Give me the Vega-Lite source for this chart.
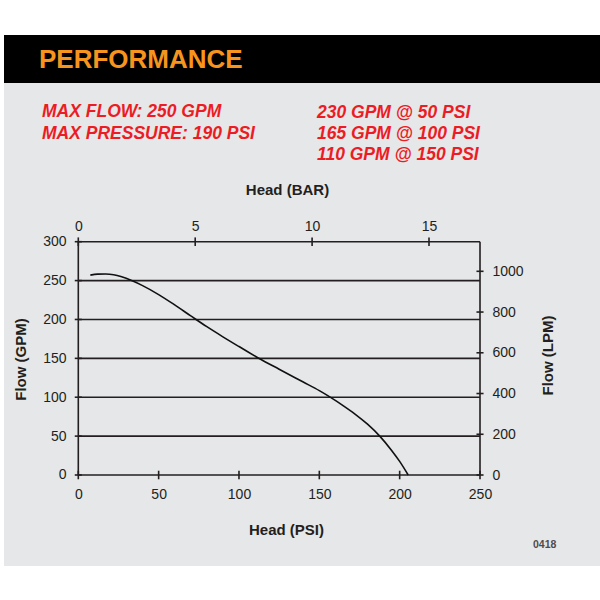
{
  "$schema": "https://vega.github.io/schema/vega-lite/v6.json",
  "background": "#ffffff",
  "padding": {"left": 4, "top": 35, "right": 0, "bottom": 34},
  "autosize": {"type": "pad"},
  "spacing": 0,
  "config": {"view": {"stroke": null}, "concat": {"spacing": 0}},
  "title": {
    "text": ["230 GPM @ 50 PSI", "165 GPM @ 100 PSI", "110 GPM @ 150 PSI"],
    "orient": "top", "anchor": "start", "frame": "group",
    "offset": -143, "dx": 313, "baseline": "alphabetic", "lineHeight": 21.3,
    "font": "Liberation Sans", "fontSize": 17.5, "fontWeight": "bold", "fontStyle": "italic",
    "color": "#ec1c24"
  },
  "datasets": {
    "gpm": [{"gpm": 0}, {"gpm": 50}, {"gpm": 100}, {"gpm": 150}, {"gpm": 200}, {"gpm": 250}, {"gpm": 300}],
    "psi": [{"psi": 0}, {"psi": 50}, {"psi": 100}, {"psi": 150}, {"psi": 200}, {"psi": 250}],
    "bar": [{"bar": 0}, {"bar": 5}, {"bar": 10}, {"bar": 15}],
    "lpm": [{"lpm": 0}, {"lpm": 200}, {"lpm": 400}, {"lpm": 600}, {"lpm": 800}, {"lpm": 1000}],
    "curve": [
      {"psi": 7.5, "gpm": 257},
      {"psi": 12, "gpm": 258.3},
      {"psi": 17, "gpm": 258.5},
      {"psi": 22, "gpm": 257.5},
      {"psi": 27, "gpm": 254.8},
      {"psi": 33.2, "gpm": 250},
      {"psi": 40, "gpm": 243.5},
      {"psi": 50, "gpm": 232},
      {"psi": 60, "gpm": 218.7},
      {"psi": 70, "gpm": 204.6},
      {"psi": 80, "gpm": 190.7},
      {"psi": 90, "gpm": 177.7},
      {"psi": 100, "gpm": 165.2},
      {"psi": 112, "gpm": 150.5},
      {"psi": 125, "gpm": 136},
      {"psi": 140, "gpm": 119.5},
      {"psi": 150, "gpm": 108.5},
      {"psi": 156.5, "gpm": 100.5},
      {"psi": 165, "gpm": 89},
      {"psi": 172, "gpm": 78.7},
      {"psi": 180, "gpm": 65.3},
      {"psi": 187.6, "gpm": 50},
      {"psi": 195, "gpm": 31.6},
      {"psi": 200, "gpm": 17.5},
      {"psi": 205.3, "gpm": 0}
    ]
  },
  "vconcat": [
    {
      "width": 596,
      "height": 48,
      "view": {"fill": "#000000", "stroke": null},
      "title": {
        "text": "PERFORMANCE",
        "orient": "top", "anchor": "start", "frame": "group",
        "offset": -59, "dx": 35, "baseline": "alphabetic",
        "font": "Liberation Sans", "fontSize": 26, "fontWeight": "bold",
        "color": "#f7941d"
      },
      "data": {"values": []},
      "mark": "point",
      "encoding": {}
    },
    {
      "spacing": 0,
      "title": {
        "text": "0418",
        "orient": "bottom", "anchor": "start", "frame": "group",
        "offset": -18, "dx": 529, "baseline": "alphabetic",
        "font": "Liberation Sans", "fontSize": 10.5, "fontWeight": "bold",
        "color": "#4d4d4f"
      },
      "vconcat": [
        {
          "width": 596,
          "height": 483,
          "view": {"fill": "#e6e7e8", "stroke": null},
          "title": {
            "text": ["MAX FLOW: 250 GPM", "MAX PRESSURE: 190 PSI"],
            "orient": "top", "anchor": "start", "frame": "group",
            "offset": -74, "dx": 38, "baseline": "alphabetic", "lineHeight": 22.3,
            "font": "Liberation Sans", "fontSize": 17.5, "fontWeight": "bold", "fontStyle": "italic",
            "color": "#ec1c24"
          },
          "resolve": {"scale": {"x": "independent", "y": "independent"}},
          "layer": [
            {
              "layer": [
                {
                  "data": {"name": "gpm"},
                  "mark": {"type": "rule", "color": "#231f20", "strokeWidth": 1.6},
                  "encoding": {
                    "y": {
                      "field": "gpm", "type": "quantitative",
                      "scale": {"domain": [-117.02, 504.07], "nice": false, "zero": false},
                      "axis": {
                        "title": "Flow (GPM)", "orient": "left", "offset": -74,
                        "values": [0, 50, 100, 150, 200, 250, 300],
                        "domain": false, "ticks": false, "tickSize": 0, "grid": false,
                        "labelPadding": 12, "labelAlign": "right", "labelBaseline": "middle",
                        "labelFont": "Liberation Sans", "labelFontSize": 14, "labelColor": "#231f20",
                        "labelOverlap": false, "labelFlush": false,
                        "titleFont": "Liberation Sans", "titleFontSize": 15, "titleFontWeight": "bold", "titleColor": "#231f20",
                        "titleAngle": 270, "titleX": -53, "titleY": 276, "titleAlign": "center", "titleBaseline": "alphabetic", "titleAnchor": null
                      }
                    },
                    "x": {
                      "datum": 0, "type": "quantitative",
                      "scale": {"domain": [-46.24, 324.68], "nice": false, "zero": false},
                      "axis": {
                        "title": "Head (PSI)", "orient": "bottom", "offset": -91,
                        "values": [0, 50, 100, 150, 200, 250],
                        "domain": false, "ticks": false, "tickSize": 0, "grid": false,
                        "labelPadding": 12, "labelAlign": "center", "labelBaseline": "top",
                        "labelFont": "Liberation Sans", "labelFontSize": 14, "labelColor": "#231f20",
                        "labelOverlap": false, "labelFlush": false,
                        "titleFont": "Liberation Sans", "titleFontSize": 15, "titleFontWeight": "bold", "titleColor": "#231f20",
                        "titleX": 282, "titleY": 59, "titleAlign": "center", "titleBaseline": "alphabetic", "titleAnchor": null
                      }
                    },
                    "x2": {"datum": 250}
                  }
                },
                {
                  "data": {"name": "gpm"},
                  "mark": {"type": "rule", "color": "#231f20", "strokeWidth": 1.6},
                  "encoding": {
                    "y": {"field": "gpm", "type": "quantitative"},
                    "x": {"datum": -2.2, "type": "quantitative"},
                    "x2": {"datum": 2.2}
                  }
                },
                {
                  "data": {"name": "psi"},
                  "mark": {"type": "rule", "color": "#231f20", "strokeWidth": 1.6},
                  "encoding": {
                    "x": {"field": "psi", "type": "quantitative"},
                    "y": {"datum": -5.5, "type": "quantitative"},
                    "y2": {"datum": 5.5}
                  }
                },
                {
                  "data": {"name": "psi"},
                  "transform": [{"filter": "datum.psi == 0 || datum.psi == 250"}],
                  "mark": {"type": "rule", "color": "#231f20", "strokeWidth": 1.6},
                  "encoding": {
                    "x": {"field": "psi", "type": "quantitative"},
                    "y": {"datum": 0, "type": "quantitative"},
                    "y2": {"datum": 300}
                  }
                },
                {
                  "data": {"name": "curve"},
                  "mark": {"type": "line", "color": "#111111", "strokeWidth": 1.6, "interpolate": "monotone"},
                  "encoding": {
                    "x": {"field": "psi", "type": "quantitative"},
                    "y": {"field": "gpm", "type": "quantitative"}
                  }
                }
              ]
            },
            {
              "data": {"name": "bar"},
              "mark": {"type": "rule", "color": "#231f20", "strokeWidth": 1.6},
              "encoding": {
                "x": {
                  "field": "bar", "type": "quantitative",
                  "scale": {"domain": [-3.178, 22.314], "nice": false, "zero": false},
                  "axis": {
                    "title": "Head (BAR)", "orient": "top", "offset": -159,
                    "values": [0, 5, 10, 15],
                    "domain": false, "ticks": false, "tickSize": 0, "grid": false,
                    "labelPadding": 12, "labelAlign": "center", "labelBaseline": "alphabetic",
                    "labelFont": "Liberation Sans", "labelFontSize": 14, "labelColor": "#231f20",
                    "labelOverlap": false, "labelFlush": false,
                    "titleFont": "Liberation Sans", "titleFontSize": 15, "titleFontWeight": "bold", "titleColor": "#231f20",
                    "titleX": 283, "titleY": -48, "titleAlign": "center", "titleBaseline": "alphabetic", "titleAnchor": null
                  }
                },
                "y": {
                  "datum": 294.5, "type": "quantitative",
                  "scale": {"domain": [-117.02, 504.07], "nice": false, "zero": false},
                  "axis": null
                },
                "y2": {"datum": 305.5}
              }
            },
            {
              "data": {"name": "lpm"},
              "mark": {"type": "rule", "color": "#231f20", "strokeWidth": 1.6},
              "encoding": {
                "y": {
                  "field": "lpm", "type": "quantitative",
                  "scale": {"domain": [-446.7, 1924.4], "nice": false, "zero": false},
                  "axis": {
                    "title": "Flow (LPM)", "orient": "right", "offset": -120,
                    "values": [0, 200, 400, 600, 800, 1000], "format": "d",
                    "domain": false, "ticks": false, "tickSize": 0, "grid": false,
                    "labelPadding": 12, "labelAlign": "left", "labelBaseline": "middle",
                    "labelFont": "Liberation Sans", "labelFontSize": 14, "labelColor": "#231f20",
                    "labelOverlap": false, "labelFlush": false,
                    "titleFont": "Liberation Sans", "titleFontSize": 15, "titleFontWeight": "bold", "titleColor": "#231f20",
                    "titleAngle": 270, "titleX": 72.5, "titleY": 272, "titleAlign": "center", "titleBaseline": "alphabetic", "titleAnchor": null
                  }
                },
                "x": {
                  "datum": 247.8, "type": "quantitative",
                  "scale": {"domain": [-46.24, 324.68], "nice": false, "zero": false},
                  "axis": null
                },
                "x2": {"datum": 252.2}
              }
            }
          ]
        }
      ]
    }
  ]
}
